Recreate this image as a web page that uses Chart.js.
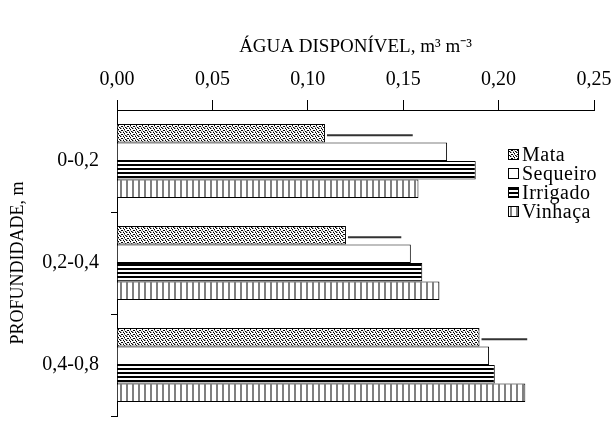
<!DOCTYPE html>
<html>
<head>
<meta charset="utf-8">
<script src="https://cdn.jsdelivr.net/npm/chart.js@4/dist/chart.umd.min.js"></script>
<style>
  html, body { margin: 0; padding: 0; background: #fff; overflow: hidden; }
  #wrap { width: 615px; height: 440px; }
</style>
</head>
<body>
<div id="wrap"><canvas id="chart" width="615" height="440"></canvas></div>
<script>
const categories = ['0-0,2', '0,2-0,4', '0,4-0,8'];
const seriesNames = ['Mata', 'Sequeiro', 'Irrigado', 'Vinhaça'];
const mata = [0.109, 0.120, 0.190];
const mataUpper = [0.155, 0.149, 0.215];   // end of the error line
const sequeiro = [0.173, 0.154, 0.195];
const irrigado = [0.188, 0.160, 0.198];
const vinhaca = [0.158, 0.169, 0.214];
const xTickLabels = ['0,00', '0,05', '0,10', '0,15', '0,20', '0,25'];

const FONT = '"Liberation Serif", "Times New Roman", serif';

function makePattern(w, h, draw) {
    const c = document.createElement('canvas');
    c.width = w;
    c.height = h;
    const g = c.getContext('2d');
    g.fillStyle = '#fff';
    g.fillRect(0, 0, w, h);
    draw(g);
    return document.getElementById('chart').getContext('2d').createPattern(c, 'repeat');
}

// speckle for Mata
const mataPattern = makePattern(6, 4, g => {
    g.fillStyle = '#000';
    [[0, 0], [3, 0], [4, 1], [1, 2], [2, 2], [5, 3]].forEach(p => g.fillRect(p[0], p[1], 1, 1));
    g.fillStyle = '#999';
    [[1, 0], [0, 3], [3, 3], [4, 2]].forEach(p => g.fillRect(p[0], p[1], 1, 1));
});
// horizontal stripes for Irrigado
const irrigadoPattern = makePattern(4, 4, g => {
    g.fillStyle = '#000';
    g.fillRect(0, 0, 4, 2);
});
// vertical grey lines for Vinhaça
const vinhacaPattern = makePattern(6, 6, g => {
    g.fillStyle = '#808080';
    g.fillRect(0, 0, 2, 6);
});

const fills = [mataPattern, '#fff', irrigadoPattern, vinhacaPattern];

const errorLines = {
    id: 'errorLines',
    afterDatasetsDraw(chart) {
        const meta = chart.getDatasetMeta(0);
        const xs = chart.scales.x;
        const ctx = chart.ctx;
        ctx.save();
        ctx.strokeStyle = '#333';
        ctx.lineWidth = 2;
        meta.data.forEach((bar, i) => {
            ctx.beginPath();
            ctx.moveTo(bar.x + 2, bar.y + 2);
            ctx.lineTo(xs.getPixelForValue(mataUpper[i]), bar.y + 2);
            ctx.stroke();
        });
        ctx.restore();
    }
};

const boxLegend = {
    id: 'boxLegend',
    afterDraw(chart) {
        const ctx = chart.ctx;
        ctx.save();
        ctx.font = '20px ' + FONT;
        ctx.letterSpacing = '0.5px';
        ctx.textBaseline = 'middle';
        ctx.textAlign = 'left';
        seriesNames.forEach((name, i) => {
            const y = 155 + i * 19;
            ctx.fillStyle = fills[i];
            ctx.fillRect(508, y - 6, 11, 11);
            ctx.strokeStyle = '#000';
            ctx.lineWidth = 1;
            ctx.strokeRect(508.5, y - 5.5, 10, 10);
            ctx.fillStyle = '#000';
            ctx.fillText(name, 522, y + 1);
        });
        ctx.restore();
    }
};

new Chart(document.getElementById('chart'), {
    type: 'bar',
    data: {
        labels: categories,
        datasets: [
            { label: 'Mata', data: mata, backgroundColor: mataPattern },
            { label: 'Sequeiro', data: sequeiro, backgroundColor: '#fff' },
            { label: 'Irrigado', data: irrigado, backgroundColor: irrigadoPattern },
            { label: 'Vinhaça', data: vinhaca, backgroundColor: vinhacaPattern }
        ].map(d => Object.assign(d, {
            borderColor: '#000',
            borderWidth: 1,
            borderSkipped: 'start',
            categoryPercentage: 0.725,
            barPercentage: 1.0
        }))
    },
    options: {
        indexAxis: 'y',
        responsive: false,
        animation: false,
        layout: { padding: { left: 0, top: 0, right: 21, bottom: 10 } },
        plugins: {
            legend: { display: false },
            tooltip: { enabled: false }
        },
        scales: {
            x: {
                position: 'top',
                min: 0,
                max: 0.25,
                ticks: {
                    stepSize: 0.05,
                    color: '#000',
                    font: { family: FONT, size: 20 },
                    padding: 8,
                    maxRotation: 0,
                    callback: (v, i) => xTickLabels[i]
                },
                grid: { drawOnChartArea: false, color: '#000', tickLength: 10 },
                border: { color: '#000' },
                title: {
                    display: true,
                    text: 'ÁGUA DISPONÍVEL, m³ m⁻³',
                    color: '#000',
                    font: { family: FONT, size: 19 },
                    padding: { top: 36, bottom: 0 }
                },
                afterFit: s => {
                    s.height = 110;
                    s.paddingLeft = 0;
                    s.paddingRight = 0;
                }
            },
            y: {
                ticks: {
                    color: '#000',
                    font: { family: FONT, size: 20 },
                    padding: 12
                },
                grid: {
                    drawOnChartArea: false,
                    tickLength: 6,
                    color: c => c.index === 0 ? 'rgba(0,0,0,0)' : '#000'
                },
                border: { color: '#000' },
                title: {
                    display: true,
                    text: 'PROFUNDIDADE, m',
                    color: '#000',
                    font: { family: FONT, size: 18 },
                    padding: { top: 7, bottom: 0 }
                },
                afterFit: s => { s.width = 117; }
            }
        }
    },
    plugins: [errorLines, boxLegend]
});
</script>
</body>
</html>
